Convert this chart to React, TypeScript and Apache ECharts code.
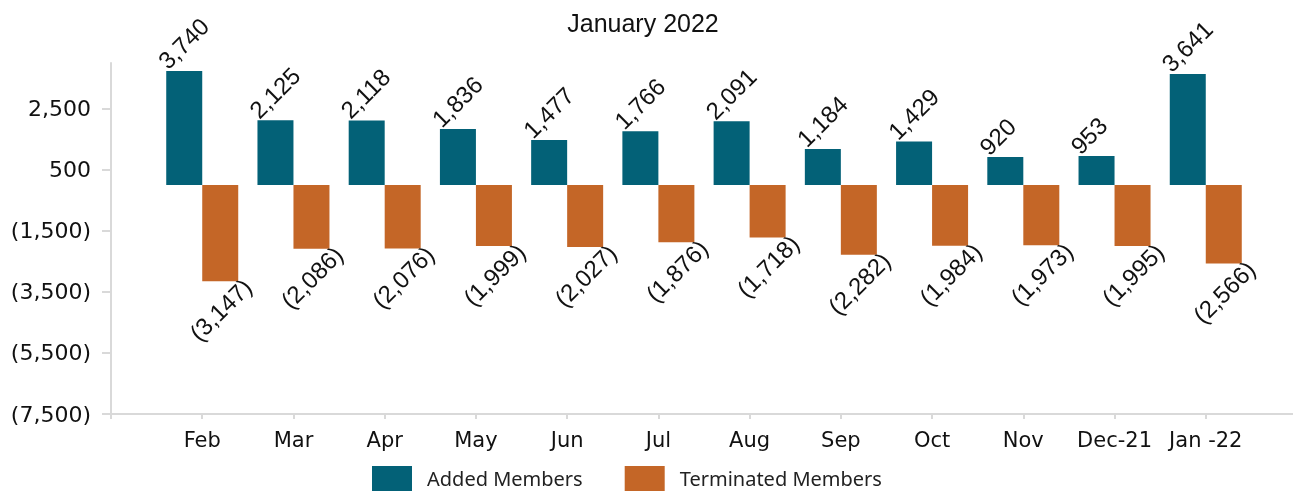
import React, { useEffect, useRef } from "react";
import * as echarts from "echarts";

const chartTitle = "January 2022";
const months = ["Feb", "Mar", "Apr", "May", "Jun", "Jul", "Aug", "Sep", "Oct", "Nov", "Dec-21", "Jan -22"];
const addedMembers = [3740, 2125, 2118, 1836, 1477, 1766, 2091, 1184, 1429, 920, 953, 3641];
const terminatedMembers = [-3147, -2086, -2076, -1999, -2027, -1876, -1718, -2282, -1984, -1973, -1995, -2566];
const yTickValues = [-7500, -5500, -3500, -1500, 500, 2500];

const BLUE = "#036177";
const ORANGE = "#c46627";
const AXIS = "#d9d9d9";

const fmt = (v: number) => {
  const s = String(Math.abs(Math.round(v))).replace(/\B(?=(\d{3})+(?!\d))/g, ",");
  return v < 0 ? `(${s})` : s;
};

export default function App() {
  const ref = useRef<HTMLDivElement>(null);
  useEffect(() => {
    if (!ref.current) return;
    const chart = echarts.init(ref.current, undefined, { renderer: "svg" });
    const cats = [" ", ...months, "  "];
    const added = [null, ...addedMembers, null];
    const terminated = [null, ...terminatedMembers, null];
    chart.setOption({
      animation: false,
      title: {
        text: chartTitle,
        left: 638,
        textAlign: "center",
        top: 5,
        textStyle: { fontFamily: "Liberation Sans", fontSize: 25, fontWeight: "normal", color: "#111" },
      },
      legend: {
        left: 372,
        top: 466,
        padding: 0,
        itemWidth: 40,
        itemHeight: 25,
        itemGap: 42,
        icon: "rect",
        textStyle: { fontFamily: "Noto Sans", fontSize: 20, color: "#222", padding: [0, 0, 0, 10] },
        data: ["Added Members", "Terminated Members"],
      },
      grid: {
        left: 111,
        top: 63,
        height: 351,
        width: 1186,
        containLabel: false,
        outerBoundsMode: "none",
      },
      xAxis: {
        type: "category",
        data: cats,
        boundaryGap: false,
        axisLine: { show: true, onZero: false, lineStyle: { color: AXIS, width: 2 } },
        axisTick: { show: true, length: 5, lineStyle: { color: AXIS, width: 2 } },
        axisLabel: { fontFamily: "DejaVu Sans", fontSize: 21, color: "#111", margin: 15, interval: 0 },
        splitLine: { show: false },
      },
      yAxis: {
        type: "value",
        min: -7500,
        max: 4000,
        interval: 2000,
        axisLine: { show: true, lineStyle: { color: AXIS, width: 2 } },
        axisTick: { show: true, length: 9, lineStyle: { color: AXIS, width: 2 }, customValues: yTickValues },
        axisLabel: {
          fontFamily: "DejaVu Sans",
          fontSize: 22,
          color: "#111",
          margin: 20,
          customValues: yTickValues,
          formatter: (v: number) => (yTickValues.includes(v) ? fmt(v) : ""),
        },
        splitLine: { show: false },
      },
      series: [
        {
          name: "Added Members",
          type: "bar",
          data: added,
          barWidth: 36,
          barGap: "0%",
          itemStyle: { color: BLUE },
          label: {
            show: true,
            position: "top",
            distance: 0,
            rotate: 45,
            align: "left",
            verticalAlign: "bottom",
            offset: [-11, -8],
            fontFamily: "Liberation Sans",
            fontSize: 24,
            color: "#111",
            formatter: (p: any) => fmt(p.value),
          },
        },
        {
          name: "Terminated Members",
          type: "bar",
          data: terminated,
          barWidth: 36,
          barGap: "0%",
          itemStyle: { color: ORANGE },
          label: {
            show: true,
            position: "bottom",
            distance: 0,
            rotate: 45,
            align: "right",
            verticalAlign: "top",
            offset: [18, 8.5],
            fontFamily: "Liberation Sans",
            fontSize: 24,
            color: "#111",
            formatter: (p: any) => fmt(p.value),
          },
        },
      ],
    });
    return () => chart.dispose();
  }, []);
  return <div ref={ref} style={{ position: "fixed", left: 0, top: 0, width: 1293, height: 493 }} />;
}
